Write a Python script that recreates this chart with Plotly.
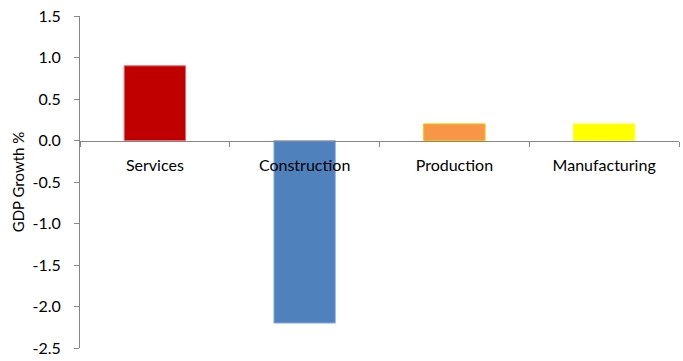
import plotly.graph_objects as go

categories = ["Services", "Construction", "Production", "Manufacturing"]
values = [0.9, -2.2, 0.2, 0.2]
fill_colors = ["#C00000", "#4F81BD", "#F79646", "#FFFF00"]
line_colors = ["#E46C6C", "#8FB4E3", "#FFC000", "#FFFF33"]
y_ticks = [-2.5, -2.0, -1.5, -1.0, -0.5, 0.0, 0.5, 1.0, 1.5]
y_tick_text = ["%.1f" % v for v in y_ticks]

fig = go.Figure(go.Bar(
    x=categories, y=values,
    marker=dict(color=fill_colors, line=dict(color=line_colors, width=1)),
    width=0.41,
))

font = "Lato"
fig.update_layout(
    width=683, height=361,
    margin=dict(l=80, r=4, t=16, b=11),
    plot_bgcolor="white", paper_bgcolor="white",
    showlegend=False,
    font=dict(family=font, size=16, color="#000000"),
    xaxis=dict(
        anchor="free", position=0.625,
        showline=True, linecolor="#868686", linewidth=1,
        ticks="outside", tickson="boundaries", ticklen=5, tickcolor="#868686",
        showgrid=False, zeroline=False,
        tickfont=dict(family=font, size=16, color="#000000"),
        ticklabelstandoff=10,
        range=[-0.5, 3.5],
    ),
    yaxis=dict(
        range=[-2.5, 1.5],
        tickvals=y_ticks, ticktext=y_tick_text,
        showline=True, linecolor="#868686", linewidth=1,
        ticks="outside", ticklen=5, tickcolor="#868686",
        showgrid=False, zeroline=False,
        tickfont=dict(family=font, size=16, color="#000000"),
        ticklabelstandoff=10,
        title=dict(text="GDP Growth %", font=dict(family=font, size=15, color="#000000"), standoff=4),
    ),
)

fig.write_html("out.html")
